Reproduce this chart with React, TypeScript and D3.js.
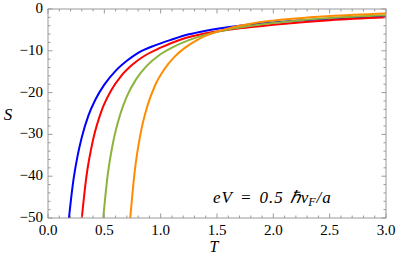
import * as d3 from 'd3'

// Temperature samples (T) and entropy values (S)
const blueT = [0.186, 0.22, 0.26, 0.30, 0.36, 0.42, 0.50, 0.60, 0.70, 0.80, 0.95, 1.10, 1.25, 1.40, 1.70, 2.00, 2.50, 3.00]
const blueS = [-50, -42.0, -35.5, -30.7, -25.4, -21.7, -18.1, -14.8, -12.4, -10.5, -8.7, -7.3, -6.06, -5.2, -4.0, -3.23, -2.33, -1.75]

const redT = [0.30, 0.34, 0.40, 0.48, 0.56, 0.65, 0.75, 0.85, 1.00, 1.20, 1.40, 1.70, 2.00, 2.50, 3.00]
const redS = [-50, -40.3, -31.3, -24.0, -19.5, -16.0, -13.3, -11.3, -9.26, -7.1, -5.8, -4.6, -3.77, -2.7, -2.0]

const greenT = [0.49, 0.53, 0.58, 0.64, 0.70, 0.78, 0.87, 0.98, 1.10, 1.25, 1.40, 1.60, 1.80, 2.00, 2.50, 3.00]
const greenS = [-50, -39.7, -31.6, -25.3, -20.9, -16.9, -13.8, -11.2, -9.26, -7.46, -6.13, -4.88, -4.0, -3.33, -2.13, -1.47]

const orangeT = [0.73, 0.77, 0.82, 0.88, 0.95, 1.03, 1.12, 1.22, 1.33, 1.45, 1.60, 1.80, 2.00, 2.50, 3.00]
const orangeS = [-50, -38.8, -30.0, -23.4, -18.3, -14.5, -11.5, -9.17, -7.3, -5.88, -4.63, -3.51, -2.78, -1.69, -1.08]

const xTicks = [0.0, 0.5, 1.0, 1.5, 2.0, 2.5, 3.0]
const yTicks = [0, -10, -20, -30, -40, -50]

const series = [
  { name: 'blue', t: blueT, s: blueS, color: '#0000ff' },
  { name: 'red', t: redT, s: redS, color: '#ff0000' },
  { name: 'green', t: greenT, s: greenS, color: '#8cb43c' },
  { name: 'orange', t: orangeT, s: orangeS, color: '#ff8c00' },
]

const W = 399
const H = 267
const margin = { top: 9, right: 13, bottom: 49, left: 48 }
const frame = '#9a9a9a'
const serif = 'Liberation Serif'

export default function App() {
  const x = d3.scaleLinear().domain([0, 3]).range([margin.left, W - margin.right])
  const y = d3.scaleLinear().domain([-50, 0]).range([H - margin.bottom, margin.top])
  const [x0, x1] = x.range()
  const [y0, y1] = y.range()

  const line = d3.line<[number, number]>()
    .x(d => x(d[0]))
    .y(d => y(d[1]))
    .curve(d3.curveMonotoneX)

  const xMinor = d3.range(0, 3.0001, 0.1)
  const yMinor = d3.range(-50, 0.0001, 2)
  const isMajorX = (v: number) => Math.abs(v * 2 - Math.round(v * 2)) < 1e-6
  const isMajorY = (v: number) => Math.abs(v / 10 - Math.round(v / 10)) < 1e-6

  return (
    <svg width={W} height={H} style={{ position: 'absolute', left: 0, top: 0, background: '#fff' }}>
      <defs>
        <clipPath id="plot">
          <rect x={x0} y={y1} width={x1 - x0} height={y0 - y1} />
        </clipPath>
      </defs>

      <g clipPath="url(#plot)">
        {series.map(s => (
          <path
            key={s.name}
            d={line(s.t.map((t, i) => [t, s.s[i]] as [number, number])) ?? ''}
            fill="none"
            stroke={s.color}
            strokeWidth={2}
          />
        ))}
      </g>

      {/* frame */}
      <rect x={x0} y={y1} width={x1 - x0} height={y0 - y1} fill="none" stroke={frame} strokeWidth={1} />

      {/* x ticks, bottom and top */}
      {xMinor.map(v => {
        const len = isMajorX(v) ? 4.5 : 2.5
        return (
          <g key={'x' + v.toFixed(1)} stroke={frame} strokeWidth={1}>
            <line x1={x(v)} x2={x(v)} y1={y0} y2={y0 - len} />
            <line x1={x(v)} x2={x(v)} y1={y1} y2={y1 + len} />
          </g>
        )
      })}
      {/* y ticks, left and right */}
      {yMinor.map(v => {
        const len = isMajorY(v) ? 4.5 : 2.5
        return (
          <g key={'y' + v} stroke={frame} strokeWidth={1}>
            <line x1={x0} x2={x0 + len} y1={y(v)} y2={y(v)} />
            <line x1={x1} x2={x1 - len} y1={y(v)} y2={y(v)} />
          </g>
        )
      })}

      {xTicks.map(v => (
        <text key={'xl' + v} x={x(v)} y={y0 + 17} textAnchor="middle" fontFamily={serif} fontSize={15} fill="#000">
          {v.toFixed(1)}
        </text>
      ))}
      {yTicks.map(v => (
        <text key={'yl' + v} x={x0 - 5} y={y(v) + 4} textAnchor="end" fontFamily={serif} fontSize={15} fill="#000">
          {v === 0 ? '0' : '\u2212' + Math.abs(v)}
        </text>
      ))}

      <text x={(x0 + x1) / 2 - 3} y={y0 + 34} textAnchor="middle" fontFamily={serif} fontStyle="italic" fontSize={16}>T</text>
      <text x={8} y={(y0 + y1) / 2 + 6} textAnchor="middle" fontFamily={serif} fontStyle="italic" fontSize={17}>S</text>

      <text x={213} y={203} fontFamily={serif} fontStyle="italic" fontSize={17} letterSpacing={1}>
        eV<tspan dx={7}>=</tspan><tspan dx={7}>0.5</tspan><tspan dx={6}>ℏv</tspan><tspan fontSize={12} dx={-1} dy={3}>F</tspan><tspan dy={-3}>/a</tspan>
      </text>
    </svg>
  )
}
